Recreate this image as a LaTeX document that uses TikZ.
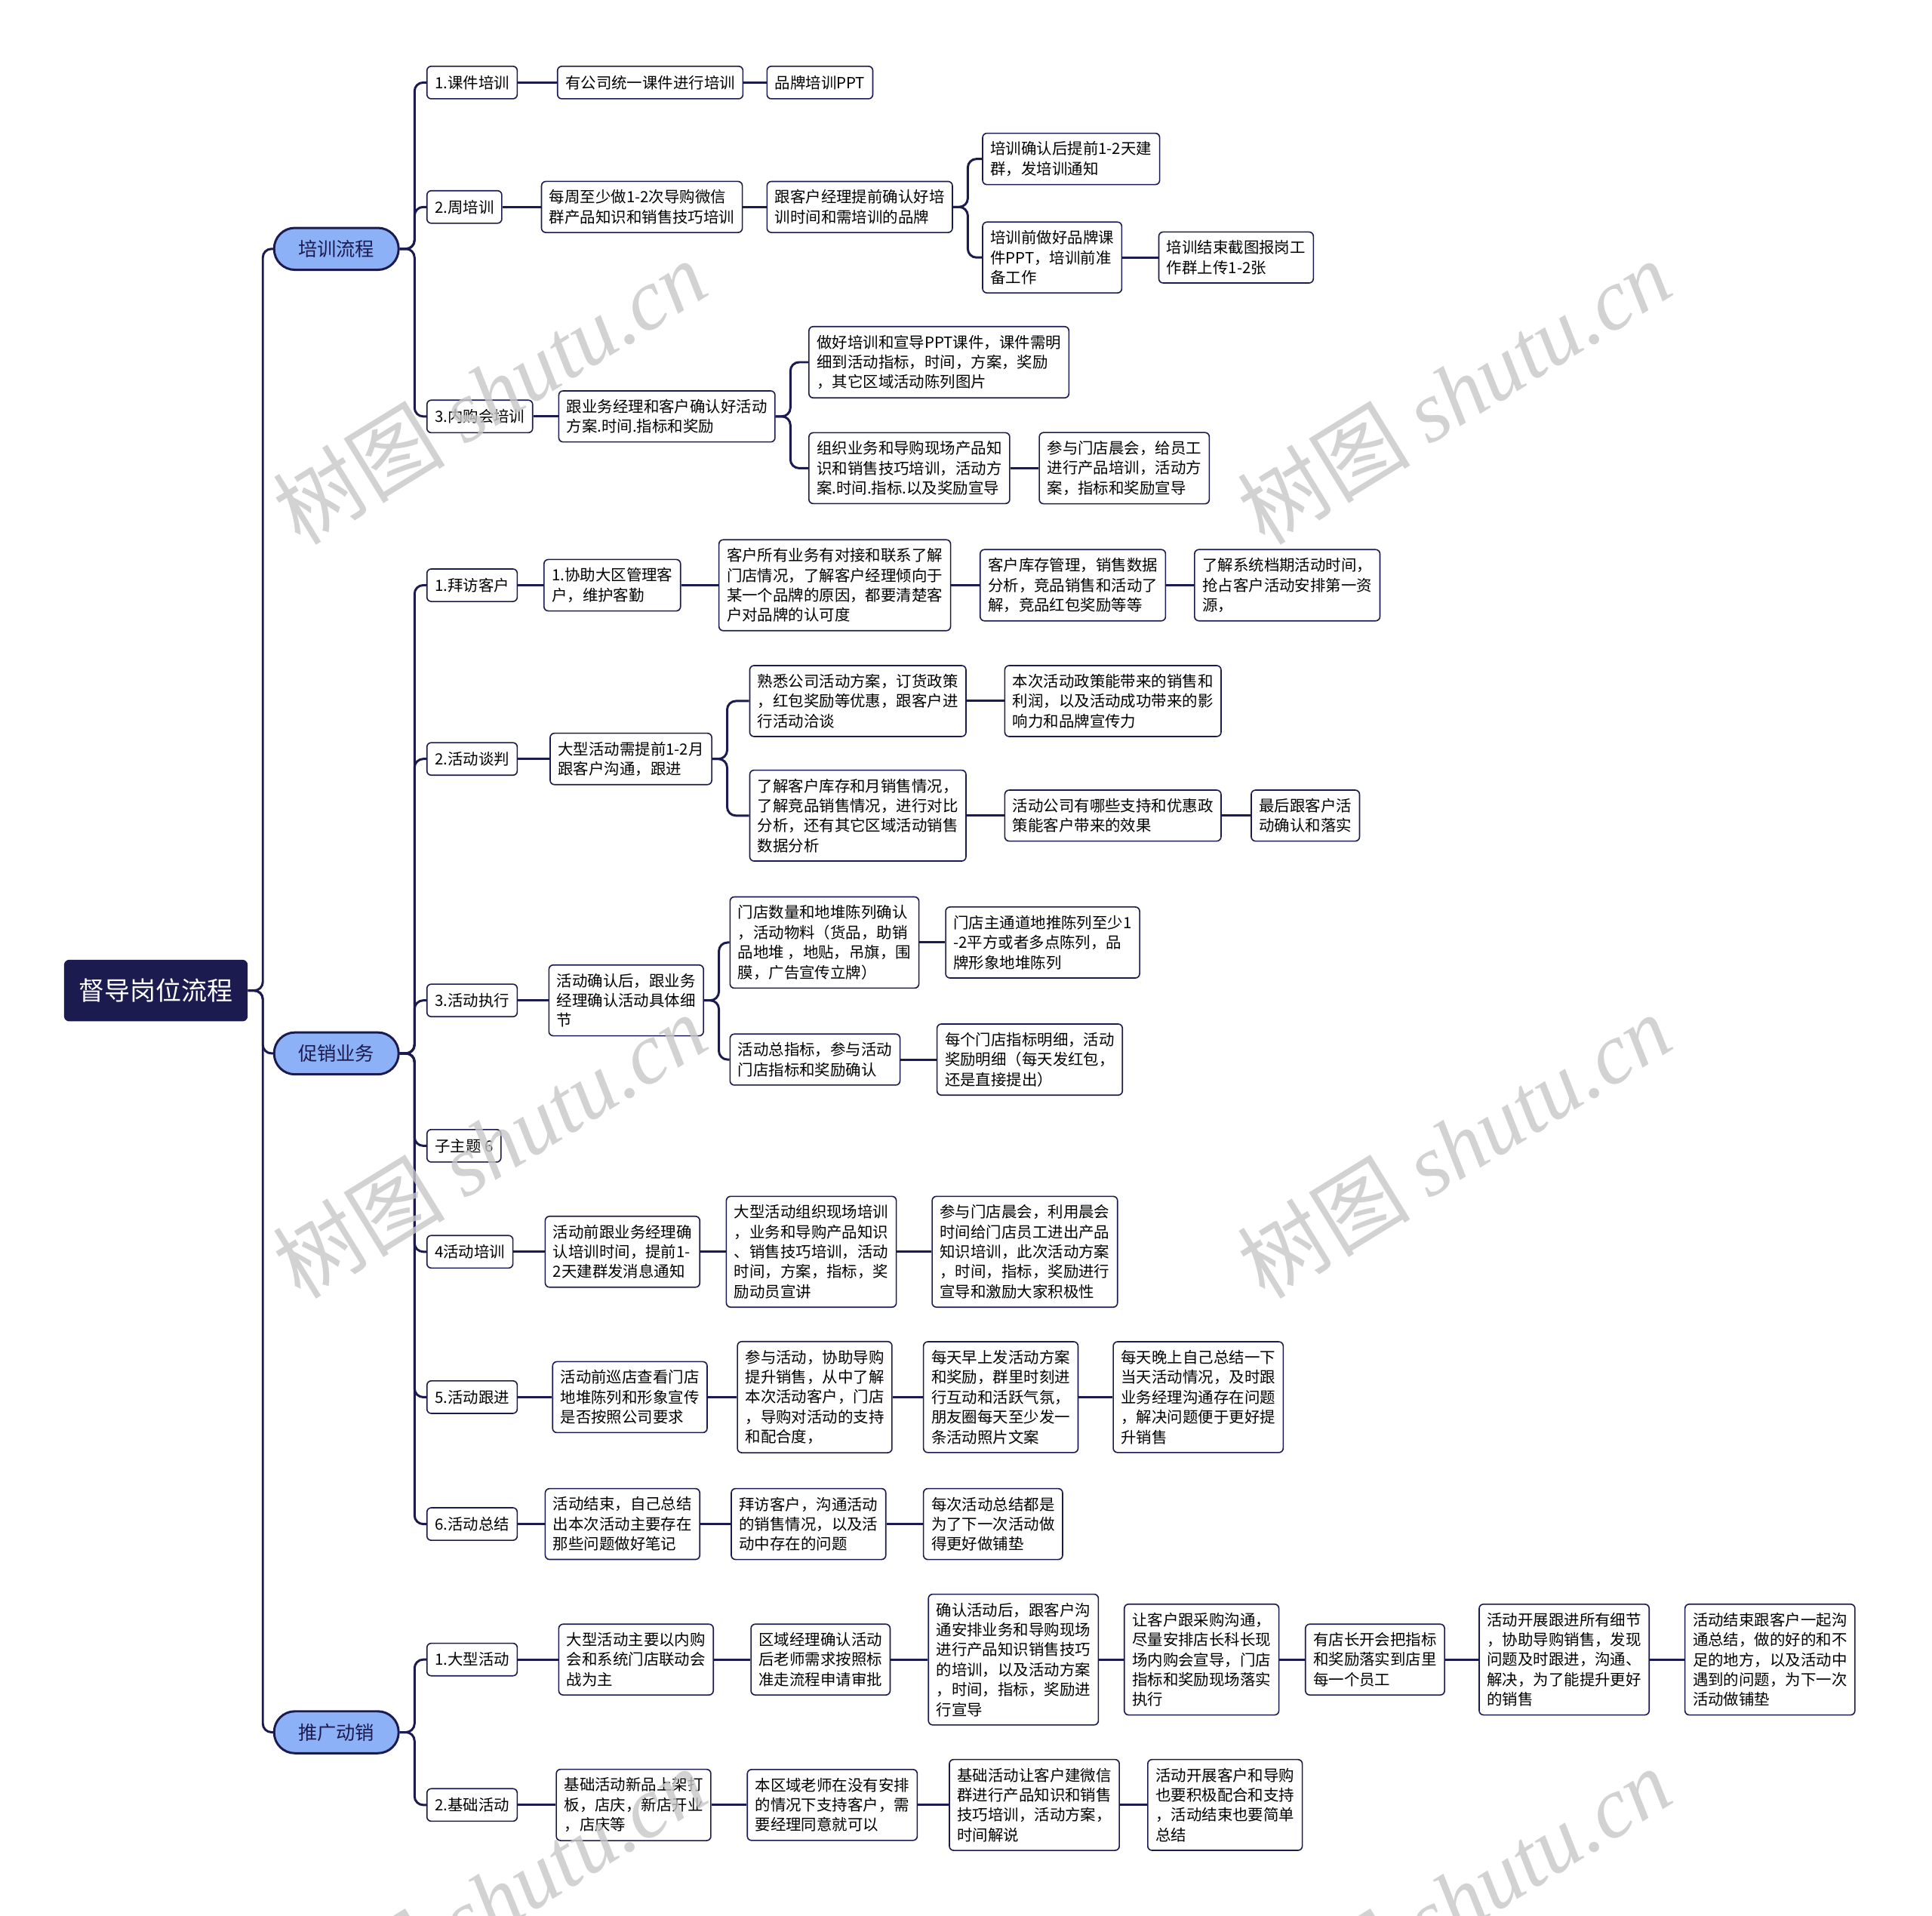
\documentclass[tikz,border=0pt]{standalone}
\usepackage{fontspec}
\setmainfont{Noto Sans CJK SC}
\newfontfamily\wmlatin{Liberation Serif}
\usepackage{xcolor}
\usepackage{tikz}

\definecolor{navy}{HTML}{1C1B50}
\definecolor{pillblue}{HTML}{8DB1F6}

\tikzset{
  topic/.style={draw=navy, line width=0.7pt, fill=white, rounded corners=2.5pt, align=left, anchor=west,
    inner xsep=0.16cm, inner ysep=0.17cm, minimum height=0.66cm, font=\fontsize{8.9}{11.5}\selectfont},
  pill/.style={draw=navy, line width=1.3pt, fill=pillblue, rounded corners=0.42cm, minimum width=2.525cm,
    minimum height=0.85cm, text=navy, font=\fontsize{11}{13}\selectfont},
  rootbox/.style={fill=navy, rounded corners=3pt, minimum width=3.725cm, minimum height=1.25cm,
    text=white, font=\fontsize{14.8}{17}\selectfont},
  link/.style={draw=navy, line width=1.3pt, rounded corners=5pt},
  wmtext/.style={text=black!22, rotate=31.6, font=\fontsize{50}{56}\selectfont}
}

\newcommand{\treelink}[2]{\draw[link] (#1.east) -- ++(12,0) |- (#2.west);}
\newcommand{\chainlink}[2]{\draw[link] (#1.east) -- (#2.west);}

\begin{document}
\begin{tikzpicture}[x=0.025cm, y=-0.025cm]
    \useasboundingbox (0,0) rectangle (1568,1555);

    % Root and main branches
    \node[rootbox] (root) at (126.5,804) {督导岗位流程};
    \node[pill] (train) at (273,202) {培训流程};
    \node[pill] (promo) at (273,855) {促销业务};
    \node[pill] (spread) at (273,1406) {推广动销};

    % 1. 培训流程
    \node[topic] (t1) at (346,67) {1.课件培训};
    \node[topic] (t1a) at (452,67) {有公司统一课件进行培训};
    \node[topic] (t1b) at (622,67) {品牌培训PPT};

    \node[topic] (t2) at (346,168) {2.周培训};
    \node[topic] (t2a) at (439,168) {每周至少做1-2次导购微信\\群产品知识和销售技巧培训};
    \node[topic] (t2b) at (622,168) {跟客户经理提前确认好培\\训时间和需培训的品牌};
    \node[topic] (t2c) at (797,129) {培训确认后提前1-2天建\\群，发培训通知};
    \node[topic] (t2d) at (797,209) {培训前做好品牌课\\件PPT，培训前准\\备工作};
    \node[topic] (t2e) at (940,209) {培训结束截图报岗工\\作群上传1-2张};

    \node[topic] (t3) at (346,338) {3.内购会培训};
    \node[topic] (t3a) at (453,338) {跟业务经理和客户确认好活动\\方案.时间.指标和奖励};
    \node[topic] (t3b) at (656,294) {做好培训和宣导PPT课件，课件需明\\细到活动指标，时间，方案，奖励\\，其它区域活动陈列图片};
    \node[topic] (t3c) at (656,380) {组织业务和导购现场产品知\\识和销售技巧培训，活动方\\案.时间.指标.以及奖励宣导};
    \node[topic] (t3d) at (843,380) {参与门店晨会，给员工\\进行产品培训，活动方\\案，指标和奖励宣导};

    % 2. 促销业务
    \node[topic] (p1) at (346,475) {1.拜访客户};
    \node[topic] (p1a) at (441,475) {1.协助大区管理客\\户，维护客勤};
    \node[topic] (p1b) at (583,475) {客户所有业务有对接和联系了解\\门店情况，了解客户经理倾向于\\某一个品牌的原因，都要清楚客\\户对品牌的认可度};
    \node[topic] (p1c) at (795,475) {客户库存管理，销售数据\\分析，竞品销售和活动了\\解，竞品红包奖励等等};
    \node[topic] (p1d) at (969,475) {了解系统档期活动时间，\\抢占客户活动安排第一资\\源，};

    \node[topic] (p2) at (346,616) {2.活动谈判};
    \node[topic] (p2a) at (446,616) {大型活动需提前1-2月\\跟客户沟通，跟进};
    \node[topic] (p2b) at (608,569) {熟悉公司活动方案，订货政策\\，红包奖励等优惠，跟客户进\\行活动洽谈};
    \node[topic] (p2c) at (815,569) {本次活动政策能带来的销售和\\利润，以及活动成功带来的影\\响力和品牌宣传力};
    \node[topic] (p2d) at (608,662) {了解客户库存和月销售情况，\\了解竞品销售情况，进行对比\\分析，还有其它区域活动销售\\数据分析};
    \node[topic] (p2e) at (815,662) {活动公司有哪些支持和优惠政\\策能客户带来的效果};
    \node[topic] (p2f) at (1015,662) {最后跟客户活\\动确认和落实};

    \node[topic] (p3) at (346,812) {3.活动执行};
    \node[topic] (p3a) at (445,812) {活动确认后，跟业务\\经理确认活动具体细\\节};
    \node[topic] (p3b) at (592,765) {门店数量和地堆陈列确认\\，活动物料（货品，助销\\品地堆 ，地贴，吊旗，围\\膜，广告宣传立牌）};
    \node[topic] (p3c) at (767,765) {门店主通道地推陈列至少1\\-2平方或者多点陈列，品\\牌形象地堆陈列};
    \node[topic] (p3d) at (592,860) {活动总指标，参与活动\\门店指标和奖励确认};
    \node[topic] (p3e) at (760,860) {每个门店指标明细，活动\\奖励明细（每天发红包，\\还是直接提出）};

    \node[topic] (psub) at (346,930) {子主题 6};

    \node[topic] (p4) at (346,1016) {4活动培训};
    \node[topic] (p4a) at (442,1016) {活动前跟业务经理确\\认培训时间，提前1-\\2天建群发消息通知};
    \node[topic] (p4b) at (589,1016) {大型活动组织现场培训\\，业务和导购产品知识\\、销售技巧培训，活动\\时间，方案，指标，奖\\励动员宣讲};
    \node[topic] (p4c) at (756,1016) {参与门店晨会，利用晨会\\时间给门店员工进出产品\\知识培训，此次活动方案\\，时间，指标，奖励进行\\宣导和激励大家积极性};

    \node[topic] (p5) at (346,1134) {5.活动跟进};
    \node[topic] (p5a) at (448,1134) {活动前巡店查看门店\\地堆陈列和形象宣传\\是否按照公司要求};
    \node[topic] (p5b) at (598,1134) {参与活动，协助导购\\提升销售，从中了解\\本次活动客户，门店\\，导购对活动的支持\\和配合度，};
    \node[topic] (p5c) at (749,1134) {每天早上发活动方案\\和奖励，群里时刻进\\行互动和活跃气氛，\\朋友圈每天至少发一\\条活动照片文案};
    \node[topic] (p5d) at (903,1134) {每天晚上自己总结一下\\当天活动情况，及时跟\\业务经理沟通存在问题\\，解决问题便于更好提\\升销售};

    \node[topic] (p6) at (346,1237) {6.活动总结};
    \node[topic] (p6a) at (442,1237) {活动结束，自己总结\\出本次活动主要存在\\那些问题做好笔记};
    \node[topic] (p6b) at (593,1237) {拜访客户，沟通活动\\的销售情况，以及活\\动中存在的问题};
    \node[topic] (p6c) at (749,1237) {每次活动总结都是\\为了下一次活动做\\得更好做铺垫};

    % 3. 推广动销
    \node[topic] (s1) at (346,1347) {1.大型活动};
    \node[topic] (s1a) at (453,1347) {大型活动主要以内购\\会和系统门店联动会\\战为主};
    \node[topic] (s1b) at (609,1347) {区域经理确认活动\\后老师需求按照标\\准走流程申请审批};
    \node[topic] (s1c) at (753,1347) {确认活动后，跟客户沟\\通安排业务和导购现场\\进行产品知识销售技巧\\的培训，以及活动方案\\，时间，指标，奖励进\\行宣导};
    \node[topic] (s1d) at (912,1347) {让客户跟采购沟通，\\尽量安排店长科长现\\场内购会宣导，门店\\指标和奖励现场落实\\执行};
    \node[topic] (s1e) at (1059,1347) {有店长开会把指标\\和奖励落实到店里\\每一个员工};
    \node[topic] (s1f) at (1200,1347) {活动开展跟进所有细节\\，协助导购销售，发现\\问题及时跟进，沟通、\\解决，为了能提升更好\\的销售};
    \node[topic] (s1g) at (1367,1347) {活动结束跟客户一起沟\\通总结，做的好的和不\\足的地方，以及活动中\\遇到的问题，为下一次\\活动做铺垫};

    \node[topic] (s2) at (346,1465) {2.基础活动};
    \node[topic] (s2a) at (451,1465) {基础活动新品上架打\\板，店庆，新店开业\\，店庆等};
    \node[topic] (s2b) at (606,1465) {本区域老师在没有安排\\的情况下支持客户，需\\要经理同意就可以};
    \node[topic] (s2c) at (770,1465) {基础活动让客户建微信\\群进行产品知识和销售\\技巧培训，活动方案，\\时间解说};
    \node[topic] (s2d) at (931,1465) {活动开展客户和导购\\也要积极配合和支持\\，活动结束也要简单\\总结};

    % Connectors
    \foreach \c in {train,promo,spread} {\treelink{root}{\c}}
    \foreach \c in {t1,t2,t3} {\treelink{train}{\c}}
    \foreach \c in {p1,p2,p3,psub,p4,p5,p6} {\treelink{promo}{\c}}
    \foreach \c in {s1,s2} {\treelink{spread}{\c}}

    \chainlink{t1}{t1a} \chainlink{t1a}{t1b}
    \chainlink{t2}{t2a} \chainlink{t2a}{t2b}
    \treelink{t2b}{t2c} \treelink{t2b}{t2d} \chainlink{t2d}{t2e}
    \chainlink{t3}{t3a}
    \treelink{t3a}{t3b} \treelink{t3a}{t3c} \chainlink{t3c}{t3d}

    \chainlink{p1}{p1a} \chainlink{p1a}{p1b} \chainlink{p1b}{p1c} \chainlink{p1c}{p1d}
    \chainlink{p2}{p2a}
    \treelink{p2a}{p2b} \treelink{p2a}{p2d}
    \chainlink{p2b}{p2c} \chainlink{p2d}{p2e} \chainlink{p2e}{p2f}
    \chainlink{p3}{p3a}
    \treelink{p3a}{p3b} \treelink{p3a}{p3d}
    \chainlink{p3b}{p3c} \chainlink{p3d}{p3e}
    \chainlink{p4}{p4a} \chainlink{p4a}{p4b} \chainlink{p4b}{p4c}
    \chainlink{p5}{p5a} \chainlink{p5a}{p5b} \chainlink{p5b}{p5c} \chainlink{p5c}{p5d}
    \chainlink{p6}{p6a} \chainlink{p6a}{p6b} \chainlink{p6b}{p6c}

    \chainlink{s1}{s1a} \chainlink{s1a}{s1b} \chainlink{s1b}{s1c} \chainlink{s1c}{s1d}
    \chainlink{s1d}{s1e} \chainlink{s1e}{s1f} \chainlink{s1f}{s1g}
    \chainlink{s2}{s2a} \chainlink{s2a}{s2b} \chainlink{s2b}{s2c} \chainlink{s2c}{s2d}

    % Watermarks
    \foreach \wx/\wy [count=\i] in {397/318, 1180/318, 397/930, 1180/930, 397/1542, 1180/1542}
        \node[wmtext, opacity=0.8] (wm\i) at (\wx,\wy) {树图 {\wmlatin\itshape shutu.cn}};
\end{tikzpicture}
\end{document}
